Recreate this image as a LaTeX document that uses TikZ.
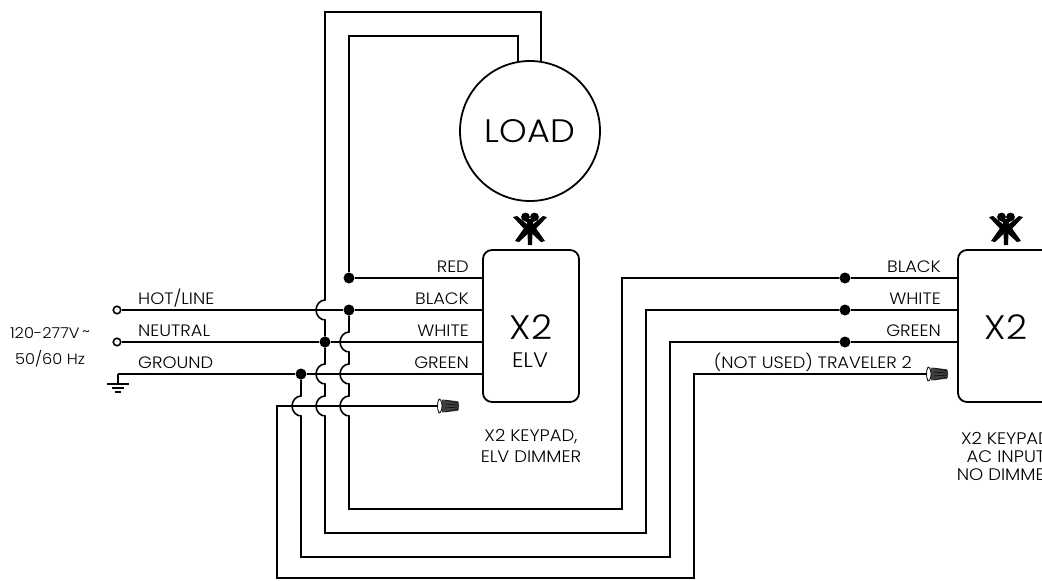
\documentclass[tikz,border=0pt]{standalone}
\usepackage{fontspec}
\setmainfont{Poppins Light}[FakeStretch=1.08]
\usepackage{tikz}

\tikzset{
  wire/.style={line width=1.6pt},
  wiredot/.style={circle,fill=black,inner sep=0pt,minimum size=11pt},
  terminal/.style={circle,draw,line width=1.6pt,fill=white,inner sep=0pt,minimum size=7.5pt},
  keypad/.style={draw,line width=1.8pt,rounded corners=9pt,minimum width=96pt,minimum height=152pt},
  tag/.style={font=\fontsize{16.5}{18}\selectfont,anchor=base east,inner sep=0pt,text=black},
  tagl/.style={font=\fontsize{16.5}{18}\selectfont,anchor=base west,inner sep=0pt,text=black},
  caption/.style={font=\fontsize{16.7}{21}\selectfont,align=center,text=black,inner sep=0pt},
  keymark/.pic={
    \fill (-3,-8) -- (3,-8) -- (2,17) -- (-2,17) -- cycle;
    \fill (-4.5,-11) circle (4.4pt) (4.5,-11) circle (4.4pt);
    \fill (-7,-9) -- (7,-9) -- (0,-3) -- cycle;
    \fill (-17,-11) -- (-13,-12) -- (3,1) -- (-3,4) -- cycle;
    \fill (17,-11) -- (13,-12) -- (-3,1) -- (3,4) -- cycle;
    \fill (-15,13) -- (-11,14) -- (3,1) -- (-3,-4) -- cycle;
    \fill (15,13) -- (11,14) -- (-3,1) -- (3,-4) -- cycle;
  },
  wirenut/.pic={
    \fill[black!75] (3,-6.5) -- (19,-4.8) .. controls (20.5,-3) and (20.5,3) .. (19,4.8) -- (3,6.5) -- cycle;
    \draw[black,line width=0.5pt] (6,-6) -- (19,-3) (6,6) -- (19,3) (6,-2) -- (19,-1) (6,2) -- (19,1);
    \draw[line width=0.8pt,fill=white] (0,-7) .. controls (-2,-3) and (-2,3) .. (0,7)
      .. controls (4,6.5) and (4,-6.5) .. (0,-7);
  }
}
\newcommand{\hop}[2]{-- (#1,#2-10) .. controls (#1-5,#2-10) and (#1-9,#2-5) .. (#1-9,#2)
  .. controls (#1-9,#2+5) and (#1-5,#2+10) .. (#1,#2+10)}

\begin{document}
\begin{tikzpicture}[x=1pt,y=-1pt]
  \useasboundingbox (0,0) rectangle (1042,581);
  \clip (0,0) rectangle (1042,581);
  \node[draw,circle,line width=1.8pt,minimum size=140pt,inner sep=0pt,font=\fontsize{32.5}{34}\selectfont,text=black] (load) at (530,131) {LOAD};
  \node[keypad] (elv) at (531,326) {};
  \node[keypad] (acin) at (1006,326) {};
  \node[font=\fontsize{34}{36}\selectfont,text=black] (elvname) at (531,327) {X2};
  \node[font=\fontsize{21}{23}\selectfont,text=black] (elvsub) at (530,360) {ELV};
  \node[font=\fontsize{34}{36}\selectfont,text=black] (acname) at (1006,327) {X2};
  \pic at (530,228) {keymark};
  \pic at (1006,228) {keymark};

  % feed side
  \node[terminal] (hot) at (117,310) {};
  \node[terminal] (neutral) at (117,342) {};
  \coordinate (ground) at (118,374);
  \node[font=\fontsize{15}{26}\selectfont,align=center,text=black] (supply) at (50,347) {120-277V\,\raisebox{2pt}{\textasciitilde}\\50/60 Hz};
  \node[tagl] (lhot) at (138,304) {HOT/LINE};
  \node[tagl] (lneutral) at (138,336) {NEUTRAL};
  \node[tagl] (lground) at (138,368) {GROUND};
  \draw[wire] (ground) -- (118,384);
  \draw[line width=1.3pt] (107,384) -- (129,384) (112,388) -- (124,388) (115,392) -- (121,392);

  % junctions
  \node[wiredot] (jred) at (349,278) {};
  \node[wiredot] (jblack) at (349,310) {};
  \node[wiredot] (jwhite) at (325,342) {};
  \node[wiredot] (jgreen) at (301,374) {};
  \node[wiredot] (kblack) at (845,278) {};
  \node[wiredot] (kwhite) at (845,310) {};
  \node[wiredot] (kgreen) at (845,342) {};

  % horizontals
  \draw[wire] (ground) -- (jgreen) -- (elv.west |- jgreen);
  \draw[wire] (hot) -- (jblack) -- (elv.west |- jblack);
  \draw[wire] (neutral) -- (jwhite) -- (elv.west |- jwhite);
  \draw[wire] (jred) -- (elv.west |- jred);
  \node[tag] (lred) at (469,272) {RED};
  \node[tag] (lblack) at (469,304) {BLACK};
  \node[tag] (lwhite) at (469,336) {WHITE};
  \node[tag] (lgreen) at (469,368) {GREEN};

  % load loop and long runs
  \draw[wire] (jred) -- (349,36) -- (518,36) -- (518,62);
  \draw[wire] (541,62) -- (541,12) -- (325,12) \hop{325}{310} -- (jwhite);
  \draw[wire] (jblack) \hop{349}{342} \hop{349}{374} \hop{349}{406} -- (349,509) -- (622,509) -- (622,278) -- (kblack);
  \draw[wire] (jwhite) \hop{325}{374} \hop{325}{406} -- (325,533) -- (646,533) -- (646,310) -- (kwhite);
  \draw[wire] (jgreen) \hop{301}{406} -- (301,557) -- (670,557) -- (670,342) -- (kgreen);
  \draw[wire] (kblack) -- (acin.west |- kblack);
  \draw[wire] (kwhite) -- (acin.west |- kwhite);
  \draw[wire] (kgreen) -- (acin.west |- kgreen);
  \node[tag] (rblack) at (941,272) {BLACK};
  \node[tag] (rwhite) at (941,304) {WHITE};
  \node[tag] (rgreen) at (941,336) {GREEN};

  % capped travelers
  \coordinate (nutl) at (439,406);
  \coordinate (nutr) at (928,374);
  \draw[wire] (nutl) -- (277,406) -- (277,578) -- (694,578) -- (694,374) -- (nutr);
  \pic at (nutl) {wirenut};
  \pic at (nutr) {wirenut};
  \node[tag] (ltrav) at (912,368) {(NOT USED) TRAVELER 2};

  \node[caption] (elvcap) at (531,446) {X2 KEYPAD,\\ELV DIMMER};
  \node[caption,font=\fontsize{16.7}{18}\selectfont] (accap) at (1006,456) {X2 KEYPAD\\AC INPUT\\NO DIMMER};
\end{tikzpicture}
\end{document}
